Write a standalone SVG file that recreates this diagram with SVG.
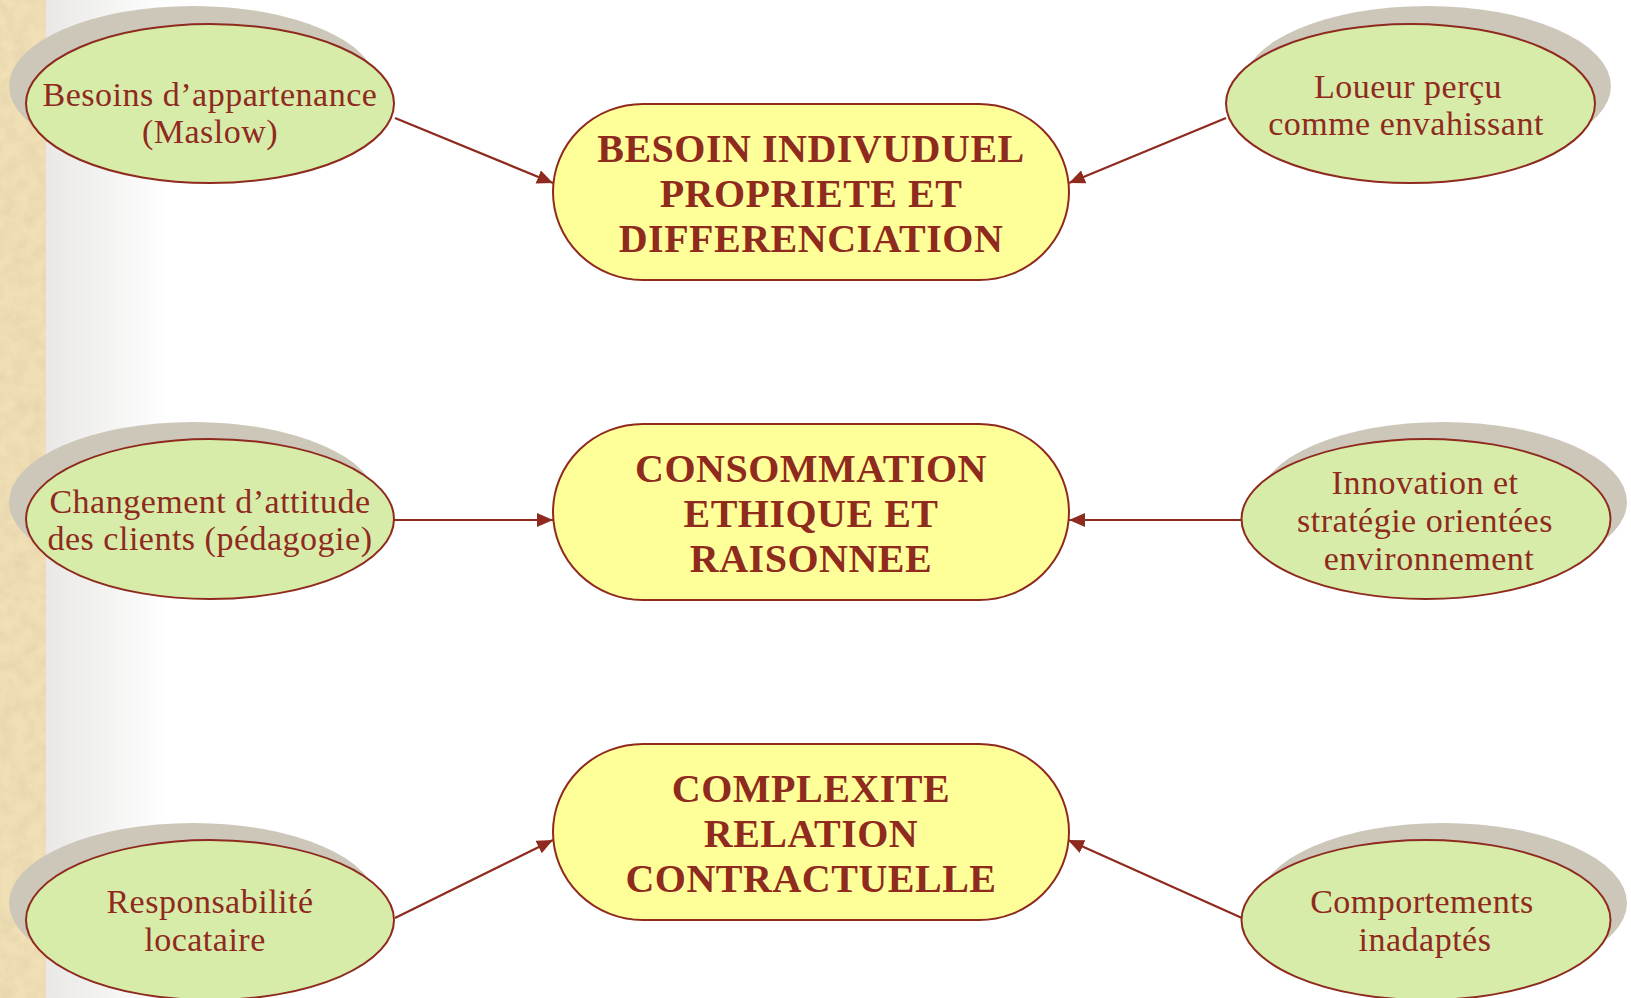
<svg xmlns="http://www.w3.org/2000/svg" width="1631" height="998" viewBox="0 0 1631 998">
<defs>
<style>
.sh{fill:#CDC7BA;}
.el{fill:#D8ECAA;stroke:#8E2A1E;stroke-width:2;}
.ct{fill:#FFFF99;stroke:#8E2A1E;stroke-width:2;}
.et{font-family:"Liberation Serif","Times New Roman",serif;font-size:34px;letter-spacing:0.5px;fill:#8E2A1E;text-anchor:middle;}
.bt{font-family:"Liberation Serif","Times New Roman",serif;font-size:40px;letter-spacing:0.5px;font-weight:bold;fill:#8E2A1E;text-anchor:middle;}
.cn{stroke:#8E2A1E;stroke-width:2.2;fill:none;marker-end:url(#ah);}
</style>
<marker id="ah" markerUnits="userSpaceOnUse" markerWidth="18" markerHeight="16" refX="16" refY="7" orient="auto">
<path d="M0,0 L16,7 L0,14 z" fill="#8E2A1E"/>
</marker>
<linearGradient id="fade" x1="0" y1="0" x2="1" y2="0">
<stop offset="0" stop-color="#E9E8E6"/>
<stop offset="1" stop-color="#FFFFFF"/>
</linearGradient>
<filter id="parch" x="0" y="0" width="100%" height="100%">
<feTurbulence type="fractalNoise" baseFrequency="0.07" numOctaves="4" seed="7"/>
<feColorMatrix type="matrix" values="0 0 0 0 0.72  0 0 0 0 0.6  0 0 0 0 0.38  0 0 0 -1.6 1.1"/>
</filter>
</defs>
<rect x="0" y="0" width="1631" height="998" fill="#FFFFFF"/>
<g id="background">
<rect x="0" y="0" width="46" height="998" fill="#F1DFB5"/>
<rect x="0" y="0" width="46" height="998" filter="url(#parch)" opacity="0.55"/>
<rect x="46" y="0" width="124" height="998" fill="url(#fade)"/>
</g>
<g id="connectors">
<line class="cn" x1="395" y1="118" x2="553" y2="183"/>
<line class="cn" x1="1226" y1="118" x2="1069" y2="183"/>
<line class="cn" x1="394" y1="520" x2="553" y2="520"/>
<line class="cn" x1="1241" y1="520" x2="1069" y2="520"/>
<line class="cn" x1="395" y1="918" x2="553" y2="840"/>
<line class="cn" x1="1242" y1="918" x2="1068" y2="840"/>
</g>
<g id="c1">
<rect class="ct" x="553" y="104" width="516" height="176" rx="90" ry="88"/>
<text class="bt" x="811" y="162">BESOIN INDIVUDUEL</text>
<text class="bt" x="811" y="207">PROPRIETE ET</text>
<text class="bt" x="811" y="252">DIFFERENCIATION</text>
</g>
<g id="c2">
<rect class="ct" x="553" y="424" width="516" height="176" rx="90" ry="88"/>
<text class="bt" x="811" y="482">CONSOMMATION</text>
<text class="bt" x="811" y="527">ETHIQUE ET</text>
<text class="bt" x="811" y="572">RAISONNEE</text>
</g>
<g id="c3">
<rect class="ct" x="553" y="744" width="516" height="176" rx="90" ry="88"/>
<text class="bt" x="811" y="802">COMPLEXITE</text>
<text class="bt" x="811" y="847">RELATION</text>
<text class="bt" x="811" y="892">CONTRACTUELLE</text>
</g>
<g id="e1">
<ellipse class="sh" cx="193" cy="86" rx="184" ry="80"/>
<ellipse class="el" cx="210" cy="103.5" rx="184" ry="79.5"/>
<text class="et" x="210" y="106">Besoins d’appartenance</text>
<text class="et" x="210" y="143">(Maslow)</text>
</g>
<g id="e2">
<ellipse class="sh" cx="1427" cy="86" rx="184" ry="80"/>
<ellipse class="el" cx="1410.5" cy="103.5" rx="184.5" ry="79.5"/>
<text class="et" x="1408" y="98">Loueur perçu</text>
<text class="et" x="1406" y="135">comme envahissant</text>
</g>
<g id="e3">
<ellipse class="sh" cx="193" cy="502" rx="184" ry="80"/>
<ellipse class="el" cx="210" cy="519" rx="184" ry="80"/>
<text class="et" x="210" y="513">Changement d’attitude</text>
<text class="et" x="210" y="550">des clients (pédagogie)</text>
</g>
<g id="e4">
<ellipse class="sh" cx="1443" cy="502" rx="184" ry="80"/>
<ellipse class="el" cx="1426" cy="519" rx="184.5" ry="80"/>
<text class="et" x="1425" y="494">Innovation et</text>
<text class="et" x="1425" y="532">stratégie orientées</text>
<text class="et" x="1429" y="570">environnement</text>
</g>
<g id="e5">
<ellipse class="sh" cx="193" cy="903" rx="184" ry="80"/>
<ellipse class="el" cx="210" cy="920" rx="184" ry="80"/>
<text class="et" x="210" y="913">Responsabilité</text>
<text class="et" x="205" y="951">locataire</text>
</g>
<g id="e6">
<ellipse class="sh" cx="1443" cy="903" rx="184" ry="80"/>
<ellipse class="el" cx="1426" cy="920" rx="184.5" ry="80"/>
<text class="et" x="1422" y="913">Comportements</text>
<text class="et" x="1425" y="951">inadaptés</text>
</g>
</svg>
